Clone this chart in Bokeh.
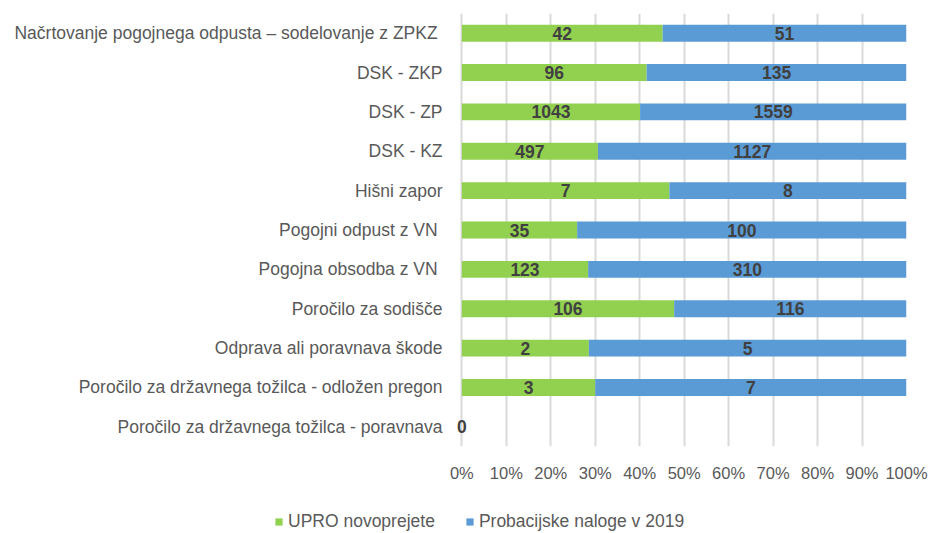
from bokeh.plotting import figure
from bokeh.layouts import column
from bokeh.core.properties import value
from bokeh.models import ColumnDataSource, FactorRange, Range1d, Legend, LegendItem, FixedTicker, NumeralTickFormatter, LabelSet
from bokeh.embed import file_html
from bokeh.resources import INLINE

categories = [
    "Načrtovanje pogojnega odpusta – sodelovanje z ZPKZ ",
    "DSK - ZKP",
    "DSK - ZP",
    "DSK - KZ",
    "Hišni zapor",
    "Pogojni odpust z VN ",
    "Pogojna obsodba z VN ",
    "Poročilo za sodišče",
    "Odprava ali poravnava škode",
    "Poročilo za državnega tožilca - odložen pregon",
    "Poročilo za državnega tožilca - poravnava",
]
upro = [42, 96, 1043, 497, 7, 35, 123, 106, 2, 3, 0]
probacijske = [51, 135, 1559, 1127, 8, 100, 310, 116, 5, 7, 0]
series_names = ["UPRO novoprejete", "Probacijske naloge v 2019"]
tick_values = [0, 0.1, 0.2, 0.3, 0.4, 0.5, 0.6, 0.7, 0.8, 0.9, 1.0]

GREEN = "#92D050"
BLUE = "#5B9BD5"
FONT = "Liberation Sans"
TXT = "#595959"

totals = [a + b for a, b in zip(upro, probacijske)]
g_frac = [a / t if t else 0 for a, t in zip(upro, totals)]
b_frac = [b / t if t else 0 for b, t in zip(probacijske, totals)]

source = ColumnDataSource(dict(cat=categories, g=g_frac, b=b_frac))

p = figure(
    width=929, height=484,
    y_range=FactorRange(factors=list(reversed(categories))),
    x_range=Range1d(-0.012, 1.0),
    output_backend="svg", toolbar_location=None,
    min_border_left=456, min_border_right=23, min_border_top=13, min_border_bottom=35,
)
p.frame_align = False
p.outline_line_color = None

rs = p.hbar_stack(["g", "b"], y="cat", height=0.43, color=[GREEN, BLUE], line_color=None, source=source)

# data labels
lab_x, lab_y, lab_t = [], [], []
for c, a, b, gf, bf in zip(categories, upro, probacijske, g_frac, b_frac):
    lab_x.append(gf / 2); lab_y.append(c); lab_t.append(str(a))
    if b:
        lab_x.append(gf + bf / 2); lab_y.append(c); lab_t.append(str(b))
lsrc = ColumnDataSource(dict(x=lab_x, y=lab_y, t=lab_t))
labels = LabelSet(x="x", y="y", text="t", source=lsrc, text_align="center", text_baseline="middle",
                  text_font=value(FONT), text_font_size=value("17.5px"), text_font_style=value("bold"),
                  text_color=value("#404040"))
p.add_layout(labels)

p.xaxis.ticker = FixedTicker(ticks=tick_values)
p.xaxis.formatter = NumeralTickFormatter(format="0%")
p.xaxis.axis_line_color = None
p.xaxis.major_tick_line_color = None
p.xaxis.minor_tick_line_color = None
p.xaxis.major_label_standoff = 11
p.xaxis.major_label_text_font = FONT
p.xaxis.major_label_text_font_size = "16.5px"
p.xaxis.major_label_text_color = TXT

p.yaxis.axis_line_color = None
p.yaxis.major_tick_line_color = None
p.yaxis.minor_tick_line_color = None
p.yaxis.major_label_standoff = 8
p.yaxis.major_label_text_font = FONT
p.yaxis.major_label_text_font_size = "17.5px"
p.yaxis.major_label_text_color = TXT

p.ygrid.grid_line_color = None
p.xgrid.grid_line_color = "#d9d9d9"
p.xgrid.grid_line_width = 2

# legend strip below the chart (its own renderers are hidden; only the legend shows)
p2 = figure(width=929, height=49, output_backend="svg", toolbar_location=None,
            x_range=Range1d(2, 3), y_range=FactorRange(factors=list(reversed(categories))),
            x_axis_location=None, y_axis_location=None,
            min_border_left=0, min_border_right=0, min_border_top=0, min_border_bottom=0)
p2.frame_align = False
p2.outline_line_color = None
p2.grid.visible = False
rs2 = p2.hbar_stack(["g", "b"], y="cat", height=0.43, color=[GREEN, BLUE], line_color=None, source=source)
for r in rs2:
    r.visible = False

legend = Legend(
    items=[LegendItem(label=series_names[0], renderers=[rs2[0]]),
           LegendItem(label=series_names[1], renderers=[rs2[1]])],
    orientation="horizontal", location=(274, 1),
    glyph_width=9, glyph_height=9, label_standoff=5, spacing=30,
    padding=0, margin=0, border_line_color=None, background_fill_alpha=0,
    inactive_fill_alpha=0,
    label_text_font=FONT, label_text_font_size="17.5px", label_text_color=TXT,
)
p2.add_layout(legend)

layout = column(p, p2, spacing=0)
open("out.html", "w").write(file_html(layout, INLINE))
